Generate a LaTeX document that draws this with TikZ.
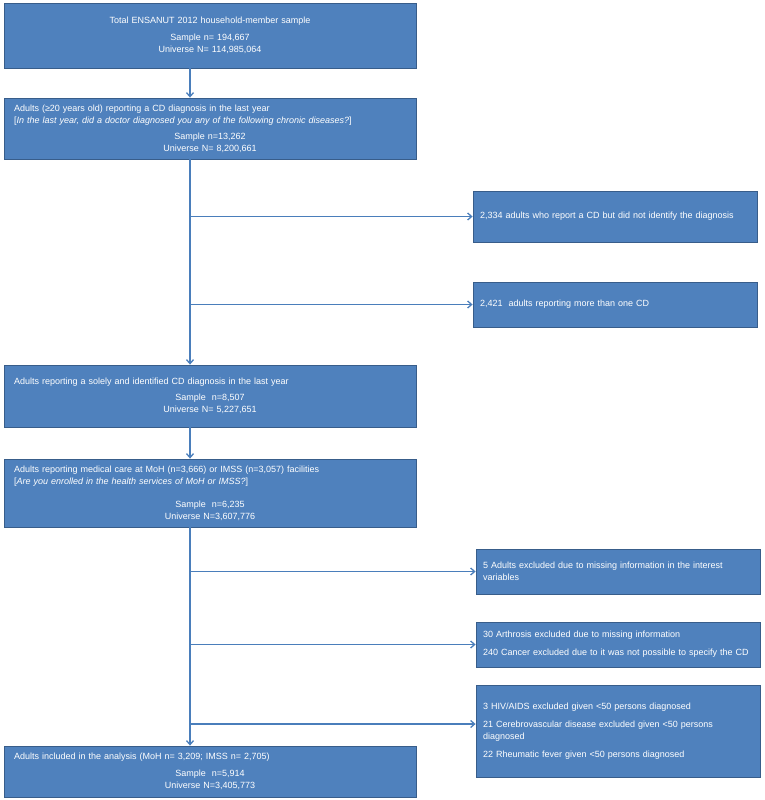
\documentclass[tikz,border=0pt]{standalone}
\usepackage{fontspec}
\setmainfont{Liberation Sans}
\usetikzlibrary{arrows.meta}
\definecolor{boxblue}{HTML}{4F81BD}
\definecolor{boxedge}{HTML}{385D8A}
\definecolor{flowblue}{HTML}{4A7EBB}
\hyphenpenalty=10000
\exhyphenpenalty=10000

\begin{document}
\begin{tikzpicture}[x=1pt, y=-1pt,
    mainbox/.style={draw=boxedge, fill=boxblue, text=white, line width=0.8pt, minimum width=412pt, text width=392pt, inner xsep=10pt, align=left, font=\fontsize{9}{12}\selectfont},
    sidebox/.style={mainbox, minimum width=284pt, text width=270pt, inner xsep=7pt},
    flow/.style={draw=flowblue, line width=1.3pt, -{Straight Barb[length=4pt, width=7pt]}}]
    \useasboundingbox (0,0) rectangle (764,800);
    %the main boxes
    \node[mainbox, minimum height=65pt] (total) at (210,35.5) {{\centering Total ENSANUT 2012 household-member sample\par}\vspace{5pt}{\centering Sample n= 194,667\\ Universe N= 114,985,064\par}};
    \node[mainbox, minimum height=61pt] (adults) at (210,128.5) {Adults (≥20 years old) reporting a CD diagnosis in the last year\\ {[}\textit{In the last year, did a doctor diagnosed you any of the following chronic diseases?}{]}\par\vspace{4pt}{\centering Sample n=13,262\\ Universe N= 8,200,661\par}};
    \node[mainbox, minimum height=62pt] (solely) at (210,396) {Adults reporting a solely and identified CD diagnosis in the last year\par\vspace{4pt}{\centering Sample\ \ n=8,507\\ Universe N= 5,227,651\par}};
    \node[mainbox, minimum height=68pt] (care) at (210,493) {Adults reporting medical care at MoH (n=3,666) or IMSS (n=3,057) facilities\\ {[}\textit{Are you enrolled in the health services of MoH or IMSS?}{]}\par\vspace{11pt}{\centering Sample\ \ n=6,235\\ Universe N=3,607,776\par}};
    \node[mainbox, minimum height=51pt] (included) at (210,771.5) {Adults included in the analysis (MoH n= 3,209; IMSS n= 2,705)\par\vspace{5pt}{\centering Sample\ \ n=5,914\\ Universe N=3,405,773\par}};
    %the exclusion boxes
    \node[sidebox, minimum height=51pt] (nodiag) at (615,216.5) {2,334 adults who report a CD but did not identify the diagnosis};
    \node[sidebox, minimum height=45pt] (morecd) at (615,304.5) {2,421\ \ adults reporting more than one CD};
    \node[sidebox, minimum height=45pt] (missing) at (618,571.5) {5 Adults excluded due to missing information in the interest variables};
    \node[sidebox, minimum height=45pt] (cancer) at (618,644.5) {30 Arthrosis excluded due to missing information\par\vspace{6pt}240 Cancer excluded due to it was not possible to specify the CD};
    \node[sidebox, minimum height=92pt] (fewcases) at (618,731) {3 HIV/AIDS excluded given <50 persons diagnosed\par\vspace{6pt}21 Cerebrovascular disease excluded given <50 persons diagnosed\par\vspace{6pt}22 Rheumatic fever given <50 persons diagnosed};
    %the arrows
    \coordinate (spine) at (190,0);
    \coordinate (fewin) at ([yshift=7pt]fewcases.west);
    \draw[flow] (total.south -| spine) -- (adults.north -| spine);
    \draw[flow] (adults.south -| spine) -- (solely.north -| spine);
    \draw[flow] (solely.south -| spine) -- (care.north -| spine);
    \draw[flow] (care.south -| spine) -- (included.north -| spine);
    \draw[flow] (spine |- nodiag.west) -- (nodiag.west);
    \draw[flow] (spine |- morecd.west) -- (morecd.west);
    \draw[flow] (spine |- missing.west) -- (missing.west);
    \draw[flow] (spine |- cancer.west) -- (cancer.west);
    \draw[flow] (spine |- fewin) -- (fewin);
\end{tikzpicture}
\end{document}
